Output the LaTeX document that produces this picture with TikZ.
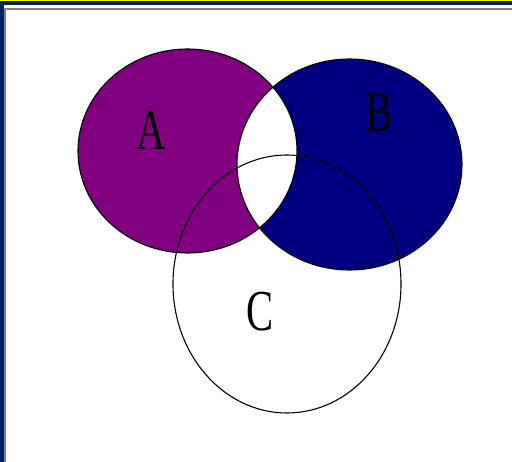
\documentclass[tikz,border=0pt]{standalone}
\usepackage{fontspec}
\setmainfont{Liberation Serif}
\definecolor{setpurple}{HTML}{800080}
\definecolor{setnavy}{HTML}{000080}
\definecolor{framenavy}{HTML}{00205F}
\begin{document}
\begin{tikzpicture}[x=1pt,y=-1pt,line cap=round,line join=round,
  setline/.style={line width=1.1pt,black},
  setlabel/.style={inner sep=0pt,font=\fontsize{58}{58}\selectfont,xscale=0.7}]
  \useasboundingbox (0,0) rectangle (512,462);
  \fill[white] (0,0) rectangle (512,462);
  % window frame
  \fill[yellow] (0,0) rectangle (512,1);
  \fill[framenavy] (0,1) rectangle (512,5);
  \fill[framenavy] (0,5) rectangle (4,462);
  \draw[gray,line width=2pt,line cap=butt] (5,462) -- (5,9) -- (512,9);
  % the three sets
  \fill[setpurple] (187.5,151) ellipse[x radius=109.5,y radius=102];
  \fill[setnavy] (349.5,164.5) ellipse[x radius=112.5,y radius=105.5];
  \begin{scope}
    \clip (187.5,151) ellipse[x radius=109.5,y radius=102];
    \fill[white] (349.5,164.5) ellipse[x radius=112.5,y radius=105.5];
  \end{scope}
  \draw[setline] (187.5,151) ellipse[x radius=109.5,y radius=102];
  \draw[setline] (349.5,164.5) ellipse[x radius=112.5,y radius=105.5];
  \draw[setline] (287,284) ellipse[x radius=114,y radius=129];
  \node[setlabel] (labA) at (151,130) {A};
  \node[setlabel] (labB) at (379.5,112.5) {B};
  \node[setlabel] (labC) at (260,312) {C};
\end{tikzpicture}
\end{document}
